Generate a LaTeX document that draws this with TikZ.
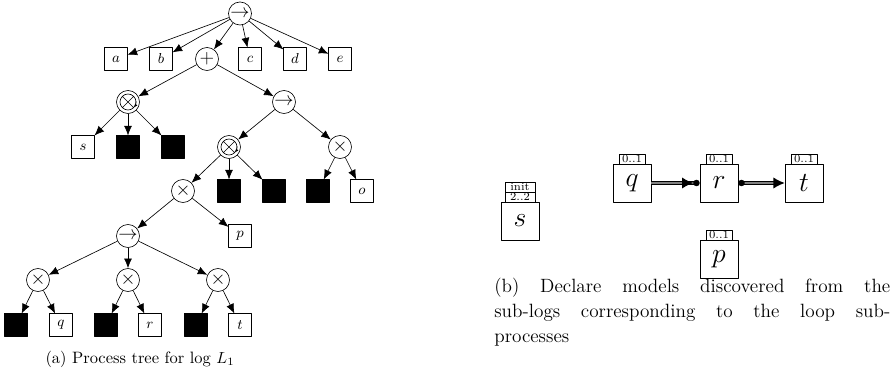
\documentclass[tikz,border=0pt]{standalone}
\usetikzlibrary{arrows.meta}
\begin{document}
\begin{tikzpicture}[x=0.625pt, y=-0.625pt, line join=round, >={Latex[length=6pt,width=5pt]},
	op/.style={draw, circle, minimum size=14.4pt, inner sep=0pt, font=\large},
	leaf/.style={draw, minimum size=14pt, inner sep=0pt, font=\small},
	silent/.style={draw, fill=black, minimum size=14pt, inner sep=0pt},
	loopop/.style={op, path picture={
		\draw[shift={(path picture bounding box.center)}] (0,0) circle[radius=5pt]
		(45:5pt) -- (225:5pt) (135:5pt) -- (-45:5pt);
		\draw[shift={(path picture bounding box.center)}, -{Latex[length=2pt,width=2pt]}] (5:5pt) arc[start angle=5, end angle=-40, radius=5pt];}},
	act/.style={draw, minimum size=23.75pt, inner sep=0pt, font=\fontsize{17}{17}\selectfont},
	card/.style={draw, minimum width=16.25pt, minimum height=6.25pt, inner sep=0pt,
		text height=4.6pt, text depth=0.4pt, font=\fontsize{7}{7}\selectfont},
	chain/.style={double=gray, double distance=1.5pt, line width=0.7pt}]
	\useasboundingbox (0,0) rectangle (895,384);
	% (a) process tree
	\node[op] (seq0) at (240,13.5) {$\rightarrow$};
	\node[leaf] (a) at (116,59) {$a$};
	\node[leaf] (b) at (161,59) {$b$};
	\node[op] (plus) at (207,59) {$+$};
	\node[leaf] (c) at (250,59) {$c$};
	\node[leaf] (d) at (295,59) {$d$};
	\node[leaf] (e) at (340,59) {$e$};
	\node[loopop] (loop1) at (128,102) {};
	\node[op] (seq1) at (284,102) {$\rightarrow$};
	\node[leaf] (s) at (83,147) {$s$};
	\node[silent] (tau1) at (128,147) {};
	\node[silent] (tau2) at (173,147) {};
	\node[loopop] (loop2) at (229,147) {};
	\node[op] (xor1) at (340,147) {$\times$};
	\node[op] (xor2) at (183,191) {$\times$};
	\node[silent] (tau3) at (229,191) {};
	\node[silent] (tau4) at (274,191) {};
	\node[silent] (tau5) at (318,191) {};
	\node[leaf] (o) at (362,191) {$o$};
	\node[op] (seq2) at (128,236) {$\rightarrow$};
	\node[leaf] (p) at (240,236) {$p$};
	\node[op] (xor3) at (38,280) {$\times$};
	\node[op] (xor4) at (128,280) {$\times$};
	\node[op] (xor5) at (218,280) {$\times$};
	\node[silent] (tau6) at (16,325) {};
	\node[leaf] (q) at (61,325) {$q$};
	\node[silent] (tau7) at (106,325) {};
	\node[leaf] (r) at (150,325) {$r$};
	\node[silent] (tau8) at (196,325) {};
	\node[leaf] (t) at (240,325) {$t$};
	\foreach \x in {a,b,plus,c,d,e} \draw[->] (seq0) -- (\x);
	\foreach \x in {loop1,seq1} \draw[->] (plus) -- (\x);
	\foreach \x in {s,tau1,tau2} \draw[->] (loop1) -- (\x);
	\foreach \x in {loop2,xor1} \draw[->] (seq1) -- (\x);
	\foreach \x in {xor2,tau3,tau4} \draw[->] (loop2) -- (\x);
	\foreach \x in {tau5,o} \draw[->] (xor1) -- (\x);
	\foreach \x in {seq2,p} \draw[->] (xor2) -- (\x);
	\foreach \x in {xor3,xor4,xor5} \draw[->] (seq2) -- (\x);
	\draw[->] (xor3) -- (tau6);
	\draw[->] (xor3) -- (q);
	\draw[->] (xor4) -- (tau7);
	\draw[->] (xor4) -- (r);
	\draw[->] (xor5) -- (tau8);
	\draw[->] (xor5) -- (t);
	\node[font=\fontsize{10.3}{12}\selectfont] (capa) at (140,359) {(a) Process tree for log $L_1$};
	% (b) declare models
	\node[act] (ds) at (520,221) {$s$};
	\node[card, minimum width=18.75pt] (ds2) at (520,197) {2..2};
	\node[card, minimum width=18.75pt] (ds1) at (520,187) {init};
	\node[act] (dq) at (632,183) {$q$};
	\node[card] (dqc) at (632,159) {0..1};
	\node[act] (dr) at (719,183) {$r$};
	\node[card] (drc) at (719,159) {0..1};
	\node[act] (dt) at (804,183) {$t$};
	\node[card] (dtc) at (804,159) {0..1};
	\node[act] (dp) at (719,259) {$p$};
	\node[card] (dpc) at (719,235) {0..1};
	\draw[chain, -{Latex[length=7pt,width=7pt]Circle[length=4pt]}] (dq) -- (dr);
	\draw[chain, {Circle[length=4pt]}-{Latex[length=7pt,width=7pt]}] (dr) -- (dt);
	\node[text width=247.5pt, align=justify, anchor=north west, inner sep=0pt,
		font=\fontsize{12}{15.5}\selectfont] (capb) at (494,278)
	{(b) Declare models discovered from the\linebreak sub-logs corresponding to the loop sub-\linebreak processes};
\end{tikzpicture}
\end{document}
